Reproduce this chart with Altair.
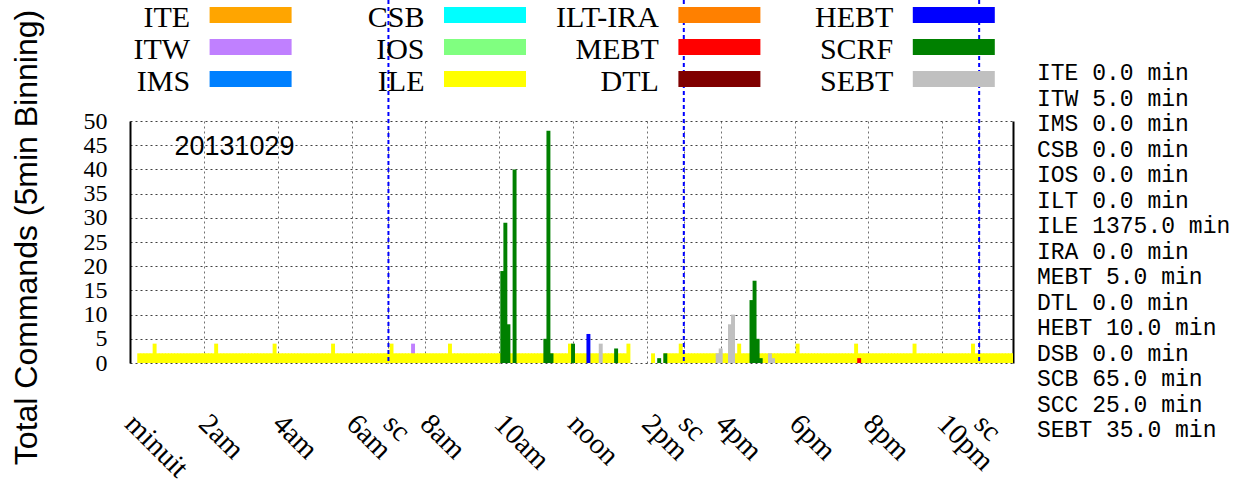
import altair as alt
import pandas as pd

# ---------------------------------------------------------------- data
DATE_LABEL = "20131029"
BIN_MINUTES = 5
DAY_END = 1435  # start minute of the last 5-minute bin

SERIES = ["ITE", "ITW", "IMS", "CSB", "IOS", "ILE",
          "ILT-IRA", "MEBT", "DTL", "HEBT", "SCRF", "SEBT"]
SERIES_COLORS = ["#ffa500", "#c080ff", "#0080ff", "#00ffff", "#80ff80", "#ffff00",
                 "#ff8000", "#ff0000", "#800000", "#0000ff", "#008000", "#c0c0c0"]

# ILE commands per 5-minute bin, one row per hour (hh:00 ... hh:55)
ILE_COUNTS = [
    [0, 0, 0, 2, 2, 2, 2, 2, 4, 2, 2, 2],  # 00h
    [2, 2, 2, 2, 2, 2, 2, 2, 2, 2, 2, 2],  # 01h
    [2, 2, 2, 2, 4, 2, 2, 2, 2, 2, 2, 2],  # 02h
    [2, 2, 2, 2, 2, 2, 2, 2, 2, 2, 2, 4],  # 03h
    [2, 2, 2, 2, 2, 2, 2, 2, 2, 2, 2, 2],  # 04h
    [2, 2, 2, 2, 2, 2, 4, 2, 2, 2, 2, 2],  # 05h
    [2, 2, 2, 2, 2, 2, 2, 2, 2, 2, 2, 2],  # 06h
    [2, 4, 2, 2, 2, 2, 2, 2, 2, 2, 2, 2],  # 07h
    [2, 2, 2, 2, 2, 2, 2, 2, 4, 2, 2, 2],  # 08h
    [2, 2, 2, 2, 2, 2, 2, 2, 2, 2, 2, 2],  # 09h
    [2, 2, 2, 2, 2, 2, 2, 2, 2, 2, 2, 2],  # 10h
    [2, 2, 2, 2, 2, 2, 2, 2, 2, 2, 2, 4],  # 11h
    [2, 2, 2, 2, 2, 2, 2, 2, 2, 2, 2, 2],  # 12h
    [2, 2, 2, 2, 2, 2, 4, 0, 0, 0, 0, 0],  # 13h
    [0, 0, 2, 0, 0, 0, 2, 2, 2, 2, 2, 4],  # 14h
    [2, 2, 2, 2, 2, 2, 2, 2, 2, 2, 2, 2],  # 15h
    [2, 2, 2, 2, 2, 2, 4, 2, 2, 2, 2, 2],  # 16h
    [2, 2, 2, 2, 2, 2, 2, 2, 2, 2, 2, 2],  # 17h
    [2, 4, 2, 2, 2, 2, 2, 2, 2, 2, 2, 2],  # 18h
    [2, 2, 2, 2, 2, 2, 2, 2, 4, 2, 2, 2],  # 19h
    [2, 2, 2, 2, 2, 2, 2, 2, 2, 2, 2, 2],  # 20h
    [2, 2, 2, 4, 2, 2, 2, 2, 2, 2, 2, 2],  # 21h
    [2, 2, 2, 2, 2, 2, 2, 2, 2, 2, 4, 2],  # 22h
    [2, 2, 2, 2, 2, 2, 2, 2, 2, 2, 2, 2],  # 23h
]

# sparse systems: bin start minute -> commands
ITW_BINS = [460]
ITW_COUNTS = [4]
MEBT_BINS = [1185]
MEBT_COUNTS = [1]
HEBT_BINS = [745]
HEBT_COUNTS = [6]
SCRF_BINS = [605, 610, 615, 625, 675, 680, 685, 720, 790, 860, 870, 1010, 1015, 1020, 1025]
SCRF_COUNTS = [19, 29, 8, 40, 5, 48, 2, 4, 3, 1, 2, 13, 17, 5, 1]
SEBT_BINS = [765, 955, 960, 975, 980, 1040, 1045]
SEBT_COUNTS = [4, 2, 3, 8, 10, 2, 1]

# shift changes and time-of-day ticks (minutes after midnight)
SHIFT_CHANGES = [420, 900, 1380]
SHIFT_LABEL = "sc"
HOUR_TICKS = [0, 120, 240, 360, 480, 600, 720, 840, 960, 1080, 1200, 1320]
HOUR_LABELS = ["minuit", "2am", "4am", "6am", "8am", "10am",
               "noon", "2pm", "4pm", "6pm", "8pm", "10pm"]
Y_TICKS = [0, 5, 10, 15, 20, 25, 30, 35, 40, 45, 50]

# beam time per system for the day
STAT_NAMES = ["ITE", "ITW", "IMS", "CSB", "IOS", "ILT", "ILE", "IRA",
              "MEBT", "DTL", "HEBT", "DSB", "SCB", "SCC", "SEBT"]
STAT_MINUTES = [0, 5, 0, 0, 0, 0, 1375, 0, 5, 0, 10, 0, 65, 25, 35]

# ---------------------------------------------------------------- layout
W, H = 883, 242
HALF_BOX = 3.2  # half box width in minutes (boxes overlap slightly)

LEG_X0, LEG_DX = 79.6, 234.4   # first swatch left, column step
LEG_TOP, LEG_DY = -114, 32     # first swatch top, row step
SW_W, SW_H = 82, 16
LEG_LABEL_GAP = 19.5
LEG_BASELINE = -94

STAT_X, STAT_Y0, STAT_DY = 907, -40.7, 25.5

SERIF = "Liberation Serif"
SANS = "Liberation Sans"
MONO = "Liberation Mono"

# ---------------------------------------------------------------- frames
ile_bins = [h * 60 + k * BIN_MINUTES for h in range(24) for k in range(12)]
ile_counts = [c for row in ILE_COUNTS for c in row]

per_series = {
    "ITW": (ITW_BINS, ITW_COUNTS),
    "ILE": (ile_bins, ile_counts),
    "MEBT": (MEBT_BINS, MEBT_COUNTS),
    "HEBT": (HEBT_BINS, HEBT_COUNTS),
    "SCRF": (SCRF_BINS, SCRF_COUNTS),
    "SEBT": (SEBT_BINS, SEBT_COUNTS),
}

records = []
for draw, name in enumerate(SERIES):
    if name not in per_series:
        continue
    bins, counts = per_series[name]
    for m, c in zip(bins, counts):
        if c > 0:
            records.append({"series": name, "draw": draw, "minute": m,
                            "count": c, "base": 0})
bars_df = pd.DataFrame(records)

tick_values = HOUR_TICKS + SHIFT_CHANGES
tick_labels = HOUR_LABELS + [SHIFT_LABEL] * len(SHIFT_CHANGES)
label_expr = "".join(f"datum.value == {v} ? '{t}' : " for v, t in zip(tick_values, tick_labels)) + "''"

x_scale = alt.Scale(domain=[0, DAY_END], nice=False, zero=False)
y_scale = alt.Scale(domain=[0, 50], nice=False)
color_scale = alt.Scale(domain=SERIES, range=SERIES_COLORS)

x_axis = alt.Axis(
    values=tick_values, labelExpr=label_expr, title=None,
    grid=True, gridDash=[2, 3], gridColor="#707070", gridWidth=1,
    domain=False, ticks=False, tickSize=0,
    labelAngle=45, labelAlign="left", labelBaseline="alphabetic",
    labelPadding=62, labelOffset=-7, labelOverlap=False, labelFlush=False,
    labelFont=SERIF, labelFontSize=29, labelColor="black",
)
y_axis = alt.Axis(
    values=Y_TICKS, title="Total Commands (5min Binning)",
    grid=True, gridDash=[2, 3], gridColor="#404040", gridWidth=1,
    domain=True, domainColor="black", domainWidth=2,
    ticks=False, tickSize=0, labelPadding=23, labelFlush=False,
    labelOverlap=False,
    labelFont=SERIF, labelFontSize=24, labelColor="black",
    titleFont=SANS, titleFontSize=32, titleFontWeight="normal", titleColor="black",
    titleAngle=270, titleBaseline="bottom", titleAlign="center",
    titleX=-87, titleY=116,
)
y_axis_right = alt.Axis(
    orient="right", values=Y_TICKS, title=None, labels=False, grid=False,
    domain=True, domainColor="black", domainWidth=2, ticks=False, tickSize=0,
)

bars = alt.Chart(bars_df).transform_calculate(
    x0=f"datum.minute - {HALF_BOX}", x1=f"datum.minute + {HALF_BOX}"
).mark_rect(clip=True).encode(
    x=alt.X("x0:Q", scale=x_scale, axis=x_axis),
    x2="x1:Q",
    y=alt.Y("count:Q", scale=y_scale, axis=y_axis),
    y2="base:Q",
    color=alt.Color("series:N", scale=color_scale, legend=None),
    order=alt.Order("draw:Q"),
)

right_frame = alt.Chart(bars_df).mark_point(opacity=0).encode(
    x=alt.X("minute:Q", scale=x_scale, axis=x_axis),
    y=alt.Y("count:Q", scale=y_scale, axis=y_axis_right),
)

shift_rules = alt.Chart(pd.DataFrame({"minute": SHIFT_CHANGES})).mark_rule(
    color="#0000ff", strokeDash=[4, 3], strokeWidth=2
).encode(
    x=alt.X("minute:Q", scale=x_scale, axis=x_axis),
    y=alt.value(-121),
    y2=alt.value(H),
)

date_text = alt.Chart(pd.DataFrame({"label": [DATE_LABEL]})).mark_text(
    font=SANS, fontSize=27, align="left", baseline="alphabetic", color="black"
).encode(x=alt.value(44.5), y=alt.value(34.3), text="label:N")

legend_base = alt.Chart(
    pd.DataFrame({"series": SERIES, "slot": list(range(len(SERIES)))})
).transform_calculate(
    col="floor(datum.slot / 3)", row="datum.slot % 3"
).transform_calculate(
    sx=f"{LEG_X0} + datum.col * {LEG_DX}",
    sx2=f"{LEG_X0} + datum.col * {LEG_DX} + {SW_W}",
    sy=f"{LEG_TOP} + datum.row * {LEG_DY}",
    sy2=f"{LEG_TOP} + datum.row * {LEG_DY} + {SW_H}",
    lx=f"{LEG_X0} + datum.col * {LEG_DX} - {LEG_LABEL_GAP}",
    ly=f"{LEG_BASELINE} + datum.row * {LEG_DY}",
)
swatches = legend_base.mark_rect().encode(
    x=alt.X("sx:Q", scale=None), x2="sx2:Q",
    y=alt.Y("sy:Q", scale=None), y2="sy2:Q",
    color=alt.Color("series:N", scale=color_scale, legend=None),
)
swatch_labels = legend_base.mark_text(
    font=SERIF, fontSize=30, align="right", baseline="alphabetic", color="black"
).encode(
    x=alt.X("lx:Q", scale=None), y=alt.Y("ly:Q", scale=None), text="series:N"
)

stats = alt.Chart(
    pd.DataFrame({"name": STAT_NAMES, "minutes": STAT_MINUTES,
                  "slot": list(range(len(STAT_NAMES)))})
).transform_calculate(
    label="datum.name + ' ' + format(datum.minutes, '.1f') + ' min'",
    ty=f"{STAT_Y0} + datum.slot * {STAT_DY}",
).mark_text(
    font=MONO, fontSize=23, align="left", baseline="alphabetic", color="black"
).encode(
    x=alt.value(STAT_X), y=alt.Y("ty:Q", scale=None), text="label:N"
)

chart = alt.layer(
    bars, right_frame, shift_rules, date_text, swatches, swatch_labels, stats
).resolve_axis(y="independent").properties(
    width=W, height=H,
    padding={"left": 130, "top": 121, "right": 224, "bottom": 125},
    autosize=alt.AutoSizeParams(type="none"),
).configure_view(stroke=None)

chart.save("out.html", embed_options={"renderer": "svg", "actions": False})
